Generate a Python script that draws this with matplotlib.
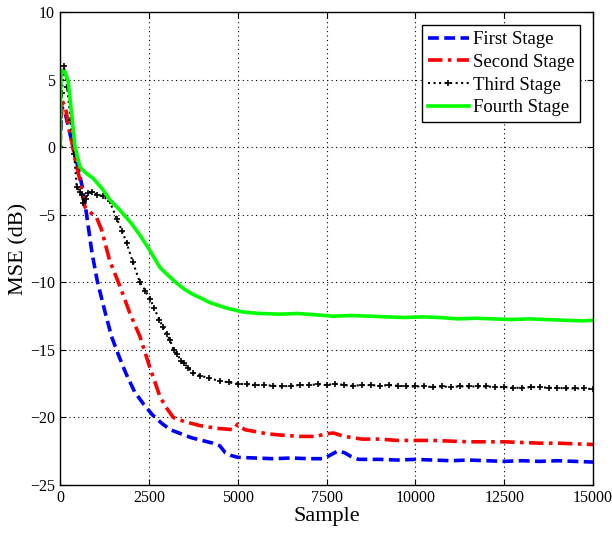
import matplotlib
matplotlib.use("Agg")
import matplotlib.pyplot as plt

plt.rcParams['font.family'] = ['Liberation Serif', 'DejaVu Serif']
plt.rcParams['mathtext.fontset'] = 'stix'

# ---- data ----
first_x = [0, 50, 150, 300, 450, 550, 650, 750, 900, 1050, 1250, 1450, 1650, 1850, 2100,
           2350, 2600, 2850, 3100, 3400, 3700, 4000, 4300, 4500, 4650, 4800, 5000, 5500,
           6000, 6500, 7000, 7400, 7600, 7800, 8000, 8200, 8400, 9000, 9500, 10000, 10500,
           11000, 11500, 12000, 12500, 13000, 13500, 14000, 14500, 15000]
first_y = [0, 3.0, 2.5, 0.8, -0.8, -2.0, -3.2, -5.0, -7.8, -9.9, -12.0, -14.0, -15.4, -16.7,
           -18.1, -19.0, -19.8, -20.4, -20.9, -21.2, -21.5, -21.7, -21.9, -22.1, -22.6, -22.8,
           -22.95, -23.0, -23.05, -23.0, -23.05, -23.05, -22.8, -22.5, -22.6, -22.9, -23.1,
           -23.1, -23.15, -23.1, -23.15, -23.2, -23.15, -23.2, -23.25, -23.2, -23.25, -23.2,
           -23.25, -23.3]

second_x = [0, 50, 150, 250, 375, 450, 560, 700, 850, 1030, 1170, 1400, 1690, 1970, 2250,
            2530, 2820, 3000, 3190, 3500, 3940, 4400, 4880, 5000, 5200, 5820, 6200, 6750,
            7200, 7500, 7700, 8000, 8500, 9000, 9500, 10000, 10500, 11000, 11500, 12000,
            12500, 13000, 13500, 14000, 14500, 15000]
second_y = [0, 3.5, 3.0, 1.5, -0.2, -1.2, -2.4, -4.4, -4.8, -5.2, -6.1, -8.4, -10.3, -12.3,
            -14.0, -16.3, -18.5, -19.3, -20.0, -20.3, -20.6, -20.8, -20.9, -20.5, -20.9,
            -21.2, -21.3, -21.4, -21.4, -21.2, -21.15, -21.4, -21.6, -21.6, -21.7, -21.7,
            -21.7, -21.75, -21.8, -21.8, -21.8, -21.85, -21.9, -21.9, -21.95, -22.0]

third_x = [0, 50, 110, 200, 300, 400, 470, 560, 610, 660, 720, 800, 900, 1030, 1200, 1400,
           1600, 1750, 1880, 2050, 2250, 2400, 2530, 2650, 2800, 2900, 3000, 3100, 3200,
           3300, 3400, 3500, 3600, 3750, 3950, 4200, 4500, 4750, 5000, 5250, 5500, 5750,
           6000, 6250, 6500, 6750, 7000, 7250, 7500, 7750, 8000, 8250, 8500, 8750, 9000,
           9250, 9500, 9750, 10000, 10250, 10500, 10750, 11000, 11250, 11500, 11750, 12000,
           12250, 12500, 12750, 13000, 13250, 13500, 13750, 14000, 14250, 14500, 14750, 15000]
third_y = [0, 4.0, 6.0, 4.5, 2.0, -0.5, -2.9, -3.3, -3.5, -4.1, -3.8, -3.4, -3.3, -3.5, -3.6,
           -4.0, -5.3, -6.2, -7.1, -8.5, -10.0, -10.6, -11.2, -11.9, -12.8, -13.3, -13.8,
           -14.3, -15.0, -15.3, -15.8, -16.0, -16.3, -16.7, -16.9, -17.1, -17.3, -17.4,
           -17.5, -17.55, -17.6, -17.6, -17.65, -17.7, -17.65, -17.6, -17.6, -17.55, -17.6,
           -17.5, -17.6, -17.65, -17.6, -17.6, -17.65, -17.6, -17.65, -17.7, -17.7, -17.7,
           -17.75, -17.7, -17.75, -17.7, -17.7, -17.7, -17.7, -17.75, -17.75, -17.8, -17.8,
           -17.75, -17.75, -17.8, -17.8, -17.85, -17.85, -17.85, -17.9]

fourth_x = [0, 30, 100, 140, 234, 328, 422, 563, 703, 937, 1200, 1407, 1688, 2000, 2250,
            2476, 2815, 3050, 3283, 3500, 3753, 4000, 4222, 4690, 5160, 5630, 6200, 6700,
            7200, 7700, 8200, 8700, 9200, 9700, 10200, 10700, 11200, 11700, 12200, 12700,
            13200, 13700, 14200, 14700, 15000]
fourth_y = [0, 5.7, 5.6, 5.6, 4.85, 2.5, 0.05, -1.45, -1.84, -2.3, -3.1, -3.9, -4.65, -5.6,
            -6.5, -7.4, -8.9, -9.5, -10.05, -10.5, -10.9, -11.2, -11.5, -11.9, -12.2, -12.3,
            -12.35, -12.3, -12.4, -12.5, -12.45, -12.5, -12.55, -12.6, -12.55, -12.6, -12.7,
            -12.65, -12.7, -12.75, -12.7, -12.75, -12.8, -12.85, -12.8]

labels = ['First Stage', 'Second Stage', 'Third Stage', 'Fourth Stage']
x_ticks = [0, 2500, 5000, 7500, 10000, 12500, 15000]
y_ticks = [-25, -20, -15, -10, -5, 0, 5, 10]

# ---- figure ----
fig = plt.figure(figsize=(6.12, 5.33), dpi=100)
ax = fig.add_axes([0.098, 0.090, 0.871, 0.887])

ax.plot(first_x, first_y, color=(0, 0, 1), ls=(0, (3, 1.5)), lw=2.6, label=labels[0])
ax.plot(second_x, second_y, color=(1, 0, 0), ls=(0, (4, 1.5, 1, 1.5)), lw=2.6, label=labels[1])
ax.plot(third_x, third_y, color='black', ls=':', lw=1.5, marker='+', ms=4, mew=1.2,
        label=labels[2])
ax.plot(fourth_x, fourth_y, color=(0, 1, 0), ls='-', lw=2.6, label=labels[3])

ax.set_xlim(0, 15000)
ax.set_ylim(-25, 10)
ax.set_xticks(x_ticks)
ax.set_yticks(y_ticks)
ax.tick_params(direction='in', top=True, right=True, labelsize=11.5, length=4, width=0.8)
ax.grid(True, ls=(0, (1, 3)), color='black', lw=0.8)
for s in ax.spines.values():
    s.set_linewidth(1.0)

ax.set_xlabel('Sample', fontsize=16, labelpad=1)
ax.set_ylabel('MSE (dB)', fontsize=16, labelpad=1.5)

leg = ax.legend(loc='upper right', fontsize=13.5, fancybox=False, framealpha=1,
                edgecolor='black', handlelength=2.2, borderpad=0.3, labelspacing=0.3,
                handletextpad=0.2, borderaxespad=0.7, numpoints=1)
leg.get_frame().set_linewidth(1.0)

fig.savefig('out.png', dpi=100)
